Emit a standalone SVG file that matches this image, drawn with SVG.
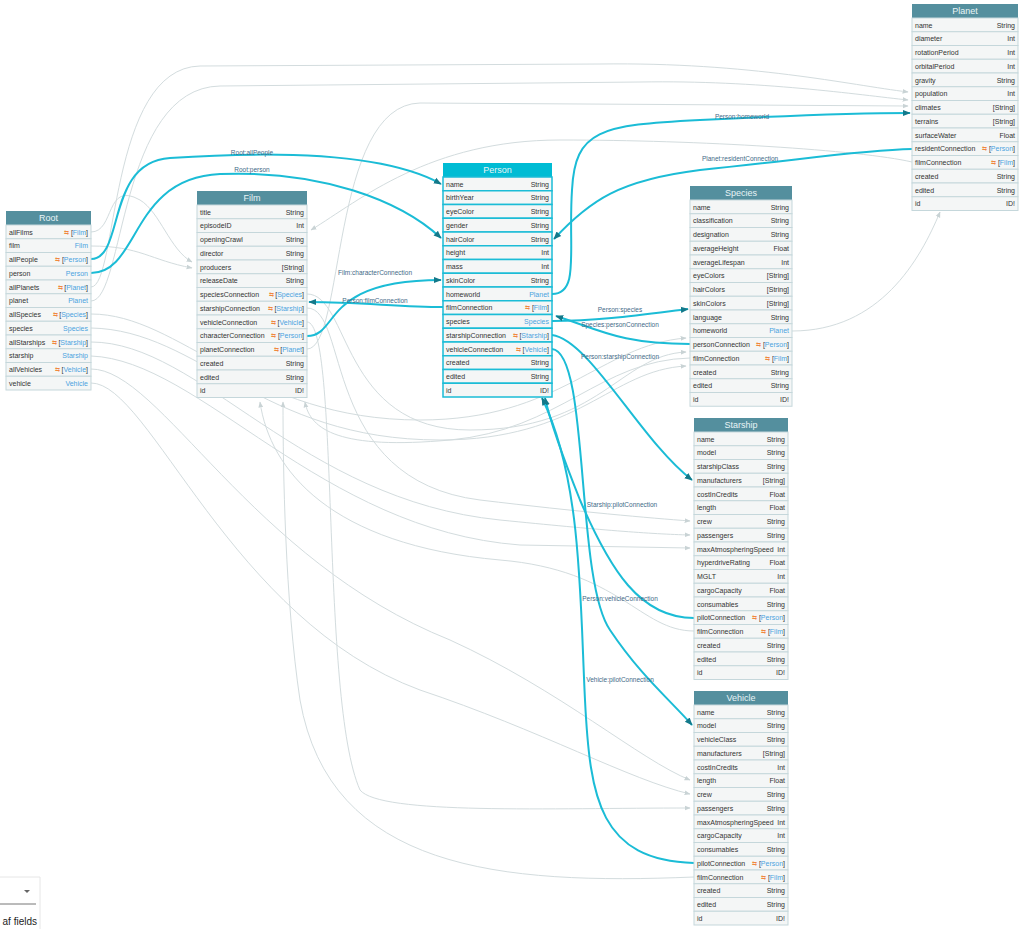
<svg xmlns="http://www.w3.org/2000/svg" width="1024" height="929" viewBox="0 0 1024 929">
<style>
.bg{fill:#fff}
.r{fill:#f4f6f6;stroke:#c5d7db;stroke-width:1}
.rp{fill:#f4f6f6;stroke:#1bbcd6;stroke-width:1.5}
.h{fill:#548f9e}
.hp{fill:#00bcd4}
.ht{font-family:"Liberation Sans",Arial,sans-serif;font-size:9px;fill:#e8f4f6;text-anchor:middle}
.n{font-family:"Liberation Sans",Arial,sans-serif;font-size:7px;fill:#333}
.t{font-family:"Liberation Sans",Arial,sans-serif;font-size:7px;fill:#333;text-anchor:end}
.b{fill:#4aa3df}
.o{fill:#f0883e;font-size:6px}
.g{fill:none;stroke:#d3dcde;stroke-width:1}
.c{fill:none;stroke:#1bbcd6;stroke-width:2}
.l{font-family:"Liberation Sans",Arial,sans-serif;font-size:6.5px;fill:#3f6a87;text-anchor:middle}
</style>
<defs>
<marker id="ag" viewBox="0 0 10 10" refX="9" refY="5" markerWidth="6" markerHeight="6" orient="auto"><path d="M0,1 L10,5 L0,9 z" fill="#c9d3d5"/></marker>
<marker id="ac" viewBox="0 0 10 10" refX="9" refY="5" markerWidth="4" markerHeight="4" orient="auto"><path d="M0,1 L10,5 L0,9 z" fill="#13798a"/></marker>
</defs>
<rect class="bg" width="1024" height="929"/>
<g id="connectors">
<path class="g" marker-end="url(#ag)" d="M91,232 C115,232 105,180 140,200 C160,212 170,250 192,262"/>
<path class="g" marker-end="url(#ag)" d="M91,246 C140,246 150,260 192,268"/>
<path class="g" marker-end="url(#ag)" d="M91,287 C118,287 108,68 200,66 L600,64 C750,62 850,85 908,92"/>
<path class="g" marker-end="url(#ag)" d="M91,301 C125,301 118,88 220,86 L640,82 C760,80 860,95 908,100"/>
<path class="g" marker-end="url(#ag)" d="M307,349 C345,349 330,105 420,103 L908,106"/>
<path class="g" marker-end="url(#ag)" d="M792,331 C880,331 920,260 940,212"/>
<path class="g" marker-end="url(#ag)" d="M912,162 C860,150 700,140 560,140 C430,140 360,200 311,230"/>
<path class="g" marker-end="url(#ag)" d="M91,314 C180,314 250,420 420,420 C560,420 600,345 686,338"/>
<path class="g" marker-end="url(#ag)" d="M91,328 C200,330 260,440 440,440 C580,440 610,370 686,366"/>
<path class="g" marker-end="url(#ag)" d="M307,294 C350,294 340,430 470,430 C600,430 620,355 686,352"/>
<path class="g" marker-end="url(#ag)" d="M91,342 C200,342 300,500 500,520 C600,530 650,534 690,535"/>
<path class="g" marker-end="url(#ag)" d="M91,356 C200,360 320,530 520,545 L690,548"/>
<path class="g" marker-end="url(#ag)" d="M307,308 C350,308 320,480 480,500 C580,512 650,518 690,521"/>
<path class="g" marker-end="url(#ag)" d="M91,369 C160,369 250,560 450,640 C560,690 640,760 690,780"/>
<path class="g" marker-end="url(#ag)" d="M91,383 C150,383 230,620 420,690 C540,730 630,780 690,794"/>
<path class="g" marker-end="url(#ag)" d="M307,322 C340,322 320,700 360,790 C380,815 550,808 690,808"/>
<path class="g" marker-end="url(#ag)" d="M694,631 C640,631 620,570 500,560 C330,545 270,470 260,402"/>
<path class="g" marker-end="url(#ag)" d="M694,877 C500,885 330,870 300,700 C285,600 283,470 283,402"/>
<path class="g" marker-end="url(#ag)" d="M690,358 C600,360 560,430 450,440 C340,450 310,430 305,402"/>
<path class="c" marker-end="url(#ac)" d="M91,259 C125,259 105,162 170,158 C260,152 380,150 441,184"/>
<path class="c" marker-end="url(#ac)" d="M91,273 C140,273 130,178 220,174 C320,170 400,200 441,238"/>
<path class="c" marker-end="url(#ac)" d="M307,336 C340,336 320,280 441,280"/>
<path class="c" marker-end="url(#ac)" d="M443,307 C400,307 360,302 309,302"/>
<path class="c" marker-end="url(#ac)" d="M552,294 C580,294 568,250 572,190 C575,130 600,125 700,120 C800,115 870,113 910,113"/>
<path class="c" marker-end="url(#ac)" d="M912,149 C860,150 800,160 700,170 C620,180 590,200 554,239"/>
<path class="c" marker-end="url(#ac)" d="M552,321 C600,321 640,315 688,309"/>
<path class="c" marker-end="url(#ac)" d="M690,344 C620,344 600,330 556,316"/>
<path class="c" marker-end="url(#ac)" d="M552,335 C590,340 640,440 692,480"/>
<path class="c" marker-end="url(#ac)" d="M552,349 C590,352 575,580 610,630 C640,675 670,700 692,725"/>
<path class="c" marker-end="url(#ac)" d="M694,618 C640,618 610,570 580,500 C560,450 550,420 545,398"/>
<path class="c" marker-end="url(#ac)" d="M694,863 C600,860 590,800 585,700 C580,600 582,480 542,398"/>
<text class="l" x="252" y="155">Root:allPeople</text>
<text class="l" x="252" y="172">Root:person</text>
<text class="l" x="375" y="275">Film:characterConnection</text>
<text class="l" x="375" y="303">Person:filmConnection</text>
<text class="l" x="742" y="119">Person:homeworld</text>
<text class="l" x="740" y="161">Planet:residentConnection</text>
<text class="l" x="620" y="312">Person:species</text>
<text class="l" x="620" y="327">Species:personConnection</text>
<text class="l" x="620" y="359">Person:starshipConnection</text>
<text class="l" x="622" y="507">Starship:pilotConnection</text>
<text class="l" x="620" y="601">Person:vehicleConnection</text>
<text class="l" x="620" y="682">Vehicle:pilotConnection</text>
</g>
<g id="root">
<rect class="h" x="6" y="211" width="85" height="14"/><text class="ht" x="48.5" y="221">Root</text>
<g transform="translate(6,225)"><rect class="r" width="85" height="13.75"/><text class="n" x="3" y="9.5">allFilms</text><text class="t" x="82" y="9.5"><tspan class="o">⇆ </tspan>[<tspan class="b">Film</tspan>]</text></g>
<g transform="translate(6,238.75)"><rect class="r" width="85" height="13.75"/><text class="n" x="3" y="9.5">film</text><text class="t b" x="82" y="9.5">Film</text></g>
<g transform="translate(6,252.5)"><rect class="r" width="85" height="13.75"/><text class="n" x="3" y="9.5">allPeople</text><text class="t" x="82" y="9.5"><tspan class="o">⇆ </tspan>[<tspan class="b">Person</tspan>]</text></g>
<g transform="translate(6,266.25)"><rect class="r" width="85" height="13.75"/><text class="n" x="3" y="9.5">person</text><text class="t b" x="82" y="9.5">Person</text></g>
<g transform="translate(6,280)"><rect class="r" width="85" height="13.75"/><text class="n" x="3" y="9.5">allPlanets</text><text class="t" x="82" y="9.5"><tspan class="o">⇆ </tspan>[<tspan class="b">Planet</tspan>]</text></g>
<g transform="translate(6,293.75)"><rect class="r" width="85" height="13.75"/><text class="n" x="3" y="9.5">planet</text><text class="t b" x="82" y="9.5">Planet</text></g>
<g transform="translate(6,307.5)"><rect class="r" width="85" height="13.75"/><text class="n" x="3" y="9.5">allSpecies</text><text class="t" x="82" y="9.5"><tspan class="o">⇆ </tspan>[<tspan class="b">Species</tspan>]</text></g>
<g transform="translate(6,321.25)"><rect class="r" width="85" height="13.75"/><text class="n" x="3" y="9.5">species</text><text class="t b" x="82" y="9.5">Species</text></g>
<g transform="translate(6,335)"><rect class="r" width="85" height="13.75"/><text class="n" x="3" y="9.5">allStarships</text><text class="t" x="82" y="9.5"><tspan class="o">⇆ </tspan>[<tspan class="b">Starship</tspan>]</text></g>
<g transform="translate(6,348.75)"><rect class="r" width="85" height="13.75"/><text class="n" x="3" y="9.5">starship</text><text class="t b" x="82" y="9.5">Starship</text></g>
<g transform="translate(6,362.5)"><rect class="r" width="85" height="13.75"/><text class="n" x="3" y="9.5">allVehicles</text><text class="t" x="82" y="9.5"><tspan class="o">⇆ </tspan>[<tspan class="b">Vehicle</tspan>]</text></g>
<g transform="translate(6,376.25)"><rect class="r" width="85" height="13.75"/><text class="n" x="3" y="9.5">vehicle</text><text class="t b" x="82" y="9.5">Vehicle</text></g>
</g>
<g id="film">
<rect class="h" x="197" y="191" width="110" height="14"/><text class="ht" x="252" y="201">Film</text>
<g transform="translate(197,205)"><rect class="r" width="110" height="13.75"/><text class="n" x="3" y="9.5">title</text><text class="t" x="107" y="9.5">String</text></g>
<g transform="translate(197,218.75)"><rect class="r" width="110" height="13.75"/><text class="n" x="3" y="9.5">episodeID</text><text class="t" x="107" y="9.5">Int</text></g>
<g transform="translate(197,232.5)"><rect class="r" width="110" height="13.75"/><text class="n" x="3" y="9.5">openingCrawl</text><text class="t" x="107" y="9.5">String</text></g>
<g transform="translate(197,246.25)"><rect class="r" width="110" height="13.75"/><text class="n" x="3" y="9.5">director</text><text class="t" x="107" y="9.5">String</text></g>
<g transform="translate(197,260)"><rect class="r" width="110" height="13.75"/><text class="n" x="3" y="9.5">producers</text><text class="t" x="107" y="9.5">[String]</text></g>
<g transform="translate(197,273.75)"><rect class="r" width="110" height="13.75"/><text class="n" x="3" y="9.5">releaseDate</text><text class="t" x="107" y="9.5">String</text></g>
<g transform="translate(197,287.5)"><rect class="r" width="110" height="13.75"/><text class="n" x="3" y="9.5">speciesConnection</text><text class="t" x="107" y="9.5"><tspan class="o">⇆ </tspan>[<tspan class="b">Species</tspan>]</text></g>
<g transform="translate(197,301.25)"><rect class="r" width="110" height="13.75"/><text class="n" x="3" y="9.5">starshipConnection</text><text class="t" x="107" y="9.5"><tspan class="o">⇆ </tspan>[<tspan class="b">Starship</tspan>]</text></g>
<g transform="translate(197,315)"><rect class="r" width="110" height="13.75"/><text class="n" x="3" y="9.5">vehicleConnection</text><text class="t" x="107" y="9.5"><tspan class="o">⇆ </tspan>[<tspan class="b">Vehicle</tspan>]</text></g>
<g transform="translate(197,328.75)"><rect class="r" width="110" height="13.75"/><text class="n" x="3" y="9.5">characterConnection</text><text class="t" x="107" y="9.5"><tspan class="o">⇆ </tspan>[<tspan class="b">Person</tspan>]</text></g>
<g transform="translate(197,342.5)"><rect class="r" width="110" height="13.75"/><text class="n" x="3" y="9.5">planetConnection</text><text class="t" x="107" y="9.5"><tspan class="o">⇆ </tspan>[<tspan class="b">Planet</tspan>]</text></g>
<g transform="translate(197,356.25)"><rect class="r" width="110" height="13.75"/><text class="n" x="3" y="9.5">created</text><text class="t" x="107" y="9.5">String</text></g>
<g transform="translate(197,370)"><rect class="r" width="110" height="13.75"/><text class="n" x="3" y="9.5">edited</text><text class="t" x="107" y="9.5">String</text></g>
<g transform="translate(197,383.75)"><rect class="r" width="110" height="13.75"/><text class="n" x="3" y="9.5">id</text><text class="t" x="107" y="9.5">ID!</text></g>
</g>
<g id="person">
<rect class="hp" x="443" y="163" width="109" height="14"/><text class="ht" x="497.5" y="173">Person</text>
<g transform="translate(443,177)"><rect class="rp" width="109" height="13.75"/><text class="n" x="3" y="9.5">name</text><text class="t" x="106" y="9.5">String</text></g>
<g transform="translate(443,190.75)"><rect class="rp" width="109" height="13.75"/><text class="n" x="3" y="9.5">birthYear</text><text class="t" x="106" y="9.5">String</text></g>
<g transform="translate(443,204.5)"><rect class="rp" width="109" height="13.75"/><text class="n" x="3" y="9.5">eyeColor</text><text class="t" x="106" y="9.5">String</text></g>
<g transform="translate(443,218.25)"><rect class="rp" width="109" height="13.75"/><text class="n" x="3" y="9.5">gender</text><text class="t" x="106" y="9.5">String</text></g>
<g transform="translate(443,232)"><rect class="rp" width="109" height="13.75"/><text class="n" x="3" y="9.5">hairColor</text><text class="t" x="106" y="9.5">String</text></g>
<g transform="translate(443,245.75)"><rect class="rp" width="109" height="13.75"/><text class="n" x="3" y="9.5">height</text><text class="t" x="106" y="9.5">Int</text></g>
<g transform="translate(443,259.5)"><rect class="rp" width="109" height="13.75"/><text class="n" x="3" y="9.5">mass</text><text class="t" x="106" y="9.5">Int</text></g>
<g transform="translate(443,273.25)"><rect class="rp" width="109" height="13.75"/><text class="n" x="3" y="9.5">skinColor</text><text class="t" x="106" y="9.5">String</text></g>
<g transform="translate(443,287)"><rect class="rp" width="109" height="13.75"/><text class="n" x="3" y="9.5">homeworld</text><text class="t b" x="106" y="9.5">Planet</text></g>
<g transform="translate(443,300.75)"><rect class="rp" width="109" height="13.75"/><text class="n" x="3" y="9.5">filmConnection</text><text class="t" x="106" y="9.5"><tspan class="o">⇆ </tspan>[<tspan class="b">Film</tspan>]</text></g>
<g transform="translate(443,314.5)"><rect class="rp" width="109" height="13.75"/><text class="n" x="3" y="9.5">species</text><text class="t b" x="106" y="9.5">Species</text></g>
<g transform="translate(443,328.25)"><rect class="rp" width="109" height="13.75"/><text class="n" x="3" y="9.5">starshipConnection</text><text class="t" x="106" y="9.5"><tspan class="o">⇆ </tspan>[<tspan class="b">Starship</tspan>]</text></g>
<g transform="translate(443,342)"><rect class="rp" width="109" height="13.75"/><text class="n" x="3" y="9.5">vehicleConnection</text><text class="t" x="106" y="9.5"><tspan class="o">⇆ </tspan>[<tspan class="b">Vehicle</tspan>]</text></g>
<g transform="translate(443,355.75)"><rect class="rp" width="109" height="13.75"/><text class="n" x="3" y="9.5">created</text><text class="t" x="106" y="9.5">String</text></g>
<g transform="translate(443,369.5)"><rect class="rp" width="109" height="13.75"/><text class="n" x="3" y="9.5">edited</text><text class="t" x="106" y="9.5">String</text></g>
<g transform="translate(443,383.25)"><rect class="rp" width="109" height="13.75"/><text class="n" x="3" y="9.5">id</text><text class="t" x="106" y="9.5">ID!</text></g>
</g>
<g id="planet">
<rect class="h" x="912" y="4" width="106" height="14"/><text class="ht" x="965" y="14">Planet</text>
<g transform="translate(912,18)"><rect class="r" width="106" height="13.75"/><text class="n" x="3" y="9.5">name</text><text class="t" x="103" y="9.5">String</text></g>
<g transform="translate(912,31.75)"><rect class="r" width="106" height="13.75"/><text class="n" x="3" y="9.5">diameter</text><text class="t" x="103" y="9.5">Int</text></g>
<g transform="translate(912,45.5)"><rect class="r" width="106" height="13.75"/><text class="n" x="3" y="9.5">rotationPeriod</text><text class="t" x="103" y="9.5">Int</text></g>
<g transform="translate(912,59.25)"><rect class="r" width="106" height="13.75"/><text class="n" x="3" y="9.5">orbitalPeriod</text><text class="t" x="103" y="9.5">Int</text></g>
<g transform="translate(912,73)"><rect class="r" width="106" height="13.75"/><text class="n" x="3" y="9.5">gravity</text><text class="t" x="103" y="9.5">String</text></g>
<g transform="translate(912,86.75)"><rect class="r" width="106" height="13.75"/><text class="n" x="3" y="9.5">population</text><text class="t" x="103" y="9.5">Int</text></g>
<g transform="translate(912,100.5)"><rect class="r" width="106" height="13.75"/><text class="n" x="3" y="9.5">climates</text><text class="t" x="103" y="9.5">[String]</text></g>
<g transform="translate(912,114.25)"><rect class="r" width="106" height="13.75"/><text class="n" x="3" y="9.5">terrains</text><text class="t" x="103" y="9.5">[String]</text></g>
<g transform="translate(912,128)"><rect class="r" width="106" height="13.75"/><text class="n" x="3" y="9.5">surfaceWater</text><text class="t" x="103" y="9.5">Float</text></g>
<g transform="translate(912,141.75)"><rect class="r" width="106" height="13.75"/><text class="n" x="3" y="9.5">residentConnection</text><text class="t" x="103" y="9.5"><tspan class="o">⇆ </tspan>[<tspan class="b">Person</tspan>]</text></g>
<g transform="translate(912,155.5)"><rect class="r" width="106" height="13.75"/><text class="n" x="3" y="9.5">filmConnection</text><text class="t" x="103" y="9.5"><tspan class="o">⇆ </tspan>[<tspan class="b">Film</tspan>]</text></g>
<g transform="translate(912,169.25)"><rect class="r" width="106" height="13.75"/><text class="n" x="3" y="9.5">created</text><text class="t" x="103" y="9.5">String</text></g>
<g transform="translate(912,183)"><rect class="r" width="106" height="13.75"/><text class="n" x="3" y="9.5">edited</text><text class="t" x="103" y="9.5">String</text></g>
<g transform="translate(912,196.75)"><rect class="r" width="106" height="13.75"/><text class="n" x="3" y="9.5">id</text><text class="t" x="103" y="9.5">ID!</text></g>
</g>
<g id="species">
<rect class="h" x="690" y="186" width="102" height="14"/><text class="ht" x="741" y="196">Species</text>
<g transform="translate(690,200)"><rect class="r" width="102" height="13.75"/><text class="n" x="3" y="9.5">name</text><text class="t" x="99" y="9.5">String</text></g>
<g transform="translate(690,213.75)"><rect class="r" width="102" height="13.75"/><text class="n" x="3" y="9.5">classification</text><text class="t" x="99" y="9.5">String</text></g>
<g transform="translate(690,227.5)"><rect class="r" width="102" height="13.75"/><text class="n" x="3" y="9.5">designation</text><text class="t" x="99" y="9.5">String</text></g>
<g transform="translate(690,241.25)"><rect class="r" width="102" height="13.75"/><text class="n" x="3" y="9.5">averageHeight</text><text class="t" x="99" y="9.5">Float</text></g>
<g transform="translate(690,255)"><rect class="r" width="102" height="13.75"/><text class="n" x="3" y="9.5">averageLifespan</text><text class="t" x="99" y="9.5">Int</text></g>
<g transform="translate(690,268.75)"><rect class="r" width="102" height="13.75"/><text class="n" x="3" y="9.5">eyeColors</text><text class="t" x="99" y="9.5">[String]</text></g>
<g transform="translate(690,282.5)"><rect class="r" width="102" height="13.75"/><text class="n" x="3" y="9.5">hairColors</text><text class="t" x="99" y="9.5">[String]</text></g>
<g transform="translate(690,296.25)"><rect class="r" width="102" height="13.75"/><text class="n" x="3" y="9.5">skinColors</text><text class="t" x="99" y="9.5">[String]</text></g>
<g transform="translate(690,310)"><rect class="r" width="102" height="13.75"/><text class="n" x="3" y="9.5">language</text><text class="t" x="99" y="9.5">String</text></g>
<g transform="translate(690,323.75)"><rect class="r" width="102" height="13.75"/><text class="n" x="3" y="9.5">homeworld</text><text class="t b" x="99" y="9.5">Planet</text></g>
<g transform="translate(690,337.5)"><rect class="r" width="102" height="13.75"/><text class="n" x="3" y="9.5">personConnection</text><text class="t" x="99" y="9.5"><tspan class="o">⇆ </tspan>[<tspan class="b">Person</tspan>]</text></g>
<g transform="translate(690,351.25)"><rect class="r" width="102" height="13.75"/><text class="n" x="3" y="9.5">filmConnection</text><text class="t" x="99" y="9.5"><tspan class="o">⇆ </tspan>[<tspan class="b">Film</tspan>]</text></g>
<g transform="translate(690,365)"><rect class="r" width="102" height="13.75"/><text class="n" x="3" y="9.5">created</text><text class="t" x="99" y="9.5">String</text></g>
<g transform="translate(690,378.75)"><rect class="r" width="102" height="13.75"/><text class="n" x="3" y="9.5">edited</text><text class="t" x="99" y="9.5">String</text></g>
<g transform="translate(690,392.5)"><rect class="r" width="102" height="13.75"/><text class="n" x="3" y="9.5">id</text><text class="t" x="99" y="9.5">ID!</text></g>
</g>
<g id="starship">
<rect class="h" x="694" y="418" width="94" height="14"/><text class="ht" x="741" y="428">Starship</text>
<g transform="translate(694,432)"><rect class="r" width="94" height="13.75"/><text class="n" x="3" y="9.5">name</text><text class="t" x="91" y="9.5">String</text></g>
<g transform="translate(694,445.75)"><rect class="r" width="94" height="13.75"/><text class="n" x="3" y="9.5">model</text><text class="t" x="91" y="9.5">String</text></g>
<g transform="translate(694,459.5)"><rect class="r" width="94" height="13.75"/><text class="n" x="3" y="9.5">starshipClass</text><text class="t" x="91" y="9.5">String</text></g>
<g transform="translate(694,473.25)"><rect class="r" width="94" height="13.75"/><text class="n" x="3" y="9.5">manufacturers</text><text class="t" x="91" y="9.5">[String]</text></g>
<g transform="translate(694,487)"><rect class="r" width="94" height="13.75"/><text class="n" x="3" y="9.5">costInCredits</text><text class="t" x="91" y="9.5">Float</text></g>
<g transform="translate(694,500.75)"><rect class="r" width="94" height="13.75"/><text class="n" x="3" y="9.5">length</text><text class="t" x="91" y="9.5">Float</text></g>
<g transform="translate(694,514.5)"><rect class="r" width="94" height="13.75"/><text class="n" x="3" y="9.5">crew</text><text class="t" x="91" y="9.5">String</text></g>
<g transform="translate(694,528.25)"><rect class="r" width="94" height="13.75"/><text class="n" x="3" y="9.5">passengers</text><text class="t" x="91" y="9.5">String</text></g>
<g transform="translate(694,542)"><rect class="r" width="94" height="13.75"/><text class="n" x="3" y="9.5">maxAtmospheringSpeed</text><text class="t" x="91" y="9.5">Int</text></g>
<g transform="translate(694,555.75)"><rect class="r" width="94" height="13.75"/><text class="n" x="3" y="9.5">hyperdriveRating</text><text class="t" x="91" y="9.5">Float</text></g>
<g transform="translate(694,569.5)"><rect class="r" width="94" height="13.75"/><text class="n" x="3" y="9.5">MGLT</text><text class="t" x="91" y="9.5">Int</text></g>
<g transform="translate(694,583.25)"><rect class="r" width="94" height="13.75"/><text class="n" x="3" y="9.5">cargoCapacity</text><text class="t" x="91" y="9.5">Float</text></g>
<g transform="translate(694,597)"><rect class="r" width="94" height="13.75"/><text class="n" x="3" y="9.5">consumables</text><text class="t" x="91" y="9.5">String</text></g>
<g transform="translate(694,610.75)"><rect class="r" width="94" height="13.75"/><text class="n" x="3" y="9.5">pilotConnection</text><text class="t" x="91" y="9.5"><tspan class="o">⇆ </tspan>[<tspan class="b">Person</tspan>]</text></g>
<g transform="translate(694,624.5)"><rect class="r" width="94" height="13.75"/><text class="n" x="3" y="9.5">filmConnection</text><text class="t" x="91" y="9.5"><tspan class="o">⇆ </tspan>[<tspan class="b">Film</tspan>]</text></g>
<g transform="translate(694,638.25)"><rect class="r" width="94" height="13.75"/><text class="n" x="3" y="9.5">created</text><text class="t" x="91" y="9.5">String</text></g>
<g transform="translate(694,652)"><rect class="r" width="94" height="13.75"/><text class="n" x="3" y="9.5">edited</text><text class="t" x="91" y="9.5">String</text></g>
<g transform="translate(694,665.75)"><rect class="r" width="94" height="13.75"/><text class="n" x="3" y="9.5">id</text><text class="t" x="91" y="9.5">ID!</text></g>
</g>
<g id="vehicle">
<rect class="h" x="694" y="691" width="94" height="14"/><text class="ht" x="741" y="701">Vehicle</text>
<g transform="translate(694,705)"><rect class="r" width="94" height="13.75"/><text class="n" x="3" y="9.5">name</text><text class="t" x="91" y="9.5">String</text></g>
<g transform="translate(694,718.75)"><rect class="r" width="94" height="13.75"/><text class="n" x="3" y="9.5">model</text><text class="t" x="91" y="9.5">String</text></g>
<g transform="translate(694,732.5)"><rect class="r" width="94" height="13.75"/><text class="n" x="3" y="9.5">vehicleClass</text><text class="t" x="91" y="9.5">String</text></g>
<g transform="translate(694,746.25)"><rect class="r" width="94" height="13.75"/><text class="n" x="3" y="9.5">manufacturers</text><text class="t" x="91" y="9.5">[String]</text></g>
<g transform="translate(694,760)"><rect class="r" width="94" height="13.75"/><text class="n" x="3" y="9.5">costInCredits</text><text class="t" x="91" y="9.5">Int</text></g>
<g transform="translate(694,773.75)"><rect class="r" width="94" height="13.75"/><text class="n" x="3" y="9.5">length</text><text class="t" x="91" y="9.5">Float</text></g>
<g transform="translate(694,787.5)"><rect class="r" width="94" height="13.75"/><text class="n" x="3" y="9.5">crew</text><text class="t" x="91" y="9.5">String</text></g>
<g transform="translate(694,801.25)"><rect class="r" width="94" height="13.75"/><text class="n" x="3" y="9.5">passengers</text><text class="t" x="91" y="9.5">String</text></g>
<g transform="translate(694,815)"><rect class="r" width="94" height="13.75"/><text class="n" x="3" y="9.5">maxAtmospheringSpeed</text><text class="t" x="91" y="9.5">Int</text></g>
<g transform="translate(694,828.75)"><rect class="r" width="94" height="13.75"/><text class="n" x="3" y="9.5">cargoCapacity</text><text class="t" x="91" y="9.5">Int</text></g>
<g transform="translate(694,842.5)"><rect class="r" width="94" height="13.75"/><text class="n" x="3" y="9.5">consumables</text><text class="t" x="91" y="9.5">String</text></g>
<g transform="translate(694,856.25)"><rect class="r" width="94" height="13.75"/><text class="n" x="3" y="9.5">pilotConnection</text><text class="t" x="91" y="9.5"><tspan class="o">⇆ </tspan>[<tspan class="b">Person</tspan>]</text></g>
<g transform="translate(694,870)"><rect class="r" width="94" height="13.75"/><text class="n" x="3" y="9.5">filmConnection</text><text class="t" x="91" y="9.5"><tspan class="o">⇆ </tspan>[<tspan class="b">Film</tspan>]</text></g>
<g transform="translate(694,883.75)"><rect class="r" width="94" height="13.75"/><text class="n" x="3" y="9.5">created</text><text class="t" x="91" y="9.5">String</text></g>
<g transform="translate(694,897.5)"><rect class="r" width="94" height="13.75"/><text class="n" x="3" y="9.5">edited</text><text class="t" x="91" y="9.5">String</text></g>
<g transform="translate(694,911.25)"><rect class="r" width="94" height="13.75"/><text class="n" x="3" y="9.5">id</text><text class="t" x="91" y="9.5">ID!</text></g>
</g>
<g id="panel">
<path d="M0,877 L40,877 L40,929" fill="#fff" stroke="#e6e6e6"/>
<line x1="0" y1="904" x2="36" y2="904" stroke="#777" stroke-width="1"/>
<path d="M24,890 L30,890 L27,893 z" fill="#666"/>
<text x="37" y="925" font-family="'Liberation Sans',Arial,sans-serif" font-size="10" fill="#222" text-anchor="end">af fields</text>
</g>
</svg>
